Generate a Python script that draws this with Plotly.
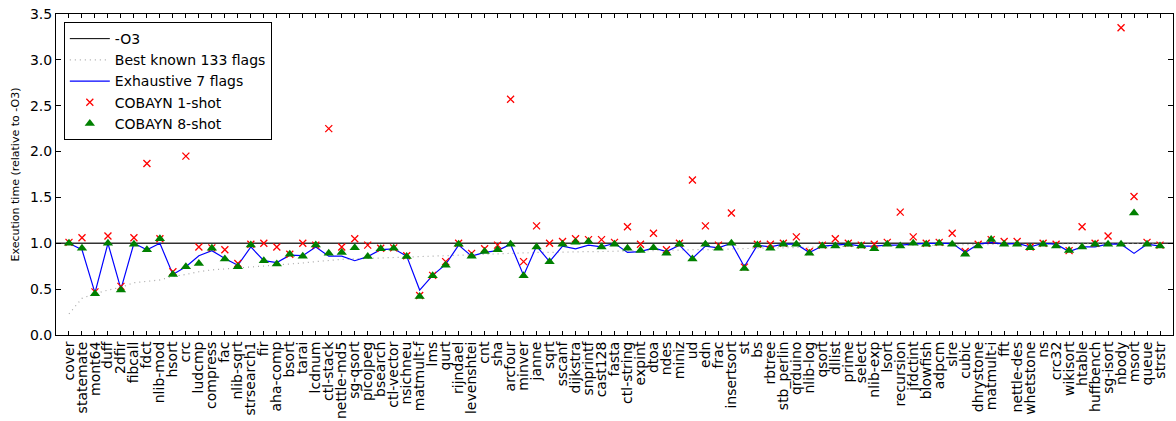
import plotly.graph_objects as go

benchmarks = ["cover", "statemate", "mont64", "duff", "2dfir", "fibcall", "fdct", "nlib-mod", "hsort", "crc",
              "ludcmp", "compress", "fac", "nlib-sqrt", "strsearch1", "fir", "aha-comp", "bsort", "tarai", "lcdnum",
              "ctl-stack", "nettle-md5", "sg-qsort", "picojpeg", "bsearch", "ctl-vector", "nsichneu", "matmult-f", "lms", "qurt",
              "rijndael", "levenshtei", "cnt", "sha", "arcfour", "minver", "janne", "sqrt", "sscanf", "dijkstra",
              "snprintf", "cast128", "fasta", "ctl-string", "expint", "dtoa", "ndes", "miniz", "ud", "edn",
              "frac", "insertsort", "st", "bs", "rbtree", "stb_perlin", "qrduino", "nlib-log", "qsort", "dllist",
              "prime", "select", "nlib-exp", "lsort", "recursion", "jfdctint", "blowfish", "adpcm", "slre", "cubic",
              "dhrystone", "matmult-i", "fft", "nettle-des", "whetstone", "ns", "crc32", "wikisort", "htable", "huffbench",
              "sg-isort", "nbody", "msort", "queue", "strstr"]

o3_baseline = 1.0

best_known = [0.23, 0.40, 0.45, 0.49, 0.52, 0.57, 0.585, 0.60, 0.64, 0.66,
              0.69, 0.71, 0.72, 0.73, 0.745, 0.755, 0.765, 0.775, 0.785, 0.80,
              0.815, 0.825, 0.83, 0.835, 0.84, 0.85, 0.855, 0.86, 0.865, 0.87,
              0.87, 0.875, 0.88, 0.885, 0.89, 0.895, 0.90, 0.90, 0.905, 0.905,
              0.91, 0.91, 0.915, 0.915, 0.92, 0.92, 0.925, 0.925, 0.93, 0.93,
              0.935, 0.94, 0.94, 0.945, 0.95, 0.95, 0.955, 0.96, 0.96, 0.965,
              0.965, 0.97, 0.97, 0.975, 0.975, 0.975, 0.98, 0.98, 0.98, 0.985,
              0.985, 0.985, 0.99, 0.99, 0.99, 0.99, 0.99, 0.995, 0.995, 0.995,
              0.995, 1.0, 1.0, 1.0, 1.0]

exhaustive_7 = [1.0, 0.93, 0.46, 1.0, 0.50, 1.0, 0.93, 1.0, 0.66, 0.745,
                0.865, 0.92, 0.835, 0.76, 0.96, 0.81, 0.79, 0.87, 0.865, 0.96,
                0.86, 0.86, 0.81, 0.855, 0.93, 0.94, 0.86, 0.49, 0.65, 0.77,
                0.98, 0.86, 0.90, 0.92, 0.99, 0.65, 0.97, 0.80, 0.97, 0.94,
                0.98, 0.96, 1.0, 0.90, 0.91, 0.95, 0.91, 0.98, 0.835, 0.97,
                0.95, 1.0, 0.745, 0.98, 0.96, 0.99, 0.99, 0.90, 0.97, 0.98,
                0.99, 0.97, 0.97, 0.98, 0.98, 0.99, 1.0, 1.0, 1.0, 0.90,
                0.99, 1.01, 0.99, 1.0, 0.96, 1.0, 0.99, 0.91, 0.96, 0.96,
                0.99, 0.99, 0.89, 0.99, 0.97]

cobayn_1shot = [1.01, 1.06, 0.47, 1.08, 0.53, 1.06, 1.87, 1.05, 0.69, 1.95,
                0.96, 0.95, 0.93, 0.78, 0.99, 1.0, 0.96, 0.88, 1.0, 0.98,
                2.25, 0.96, 1.05, 0.98, 0.945, 0.95, 0.865, 0.43, 0.65, 0.80,
                1.0, 0.89, 0.94, 0.98, 2.57, 0.80, 1.19, 1.0, 1.02, 1.05,
                1.04, 1.04, 1.01, 1.18, 0.99, 1.11, 0.93, 1.0, 1.69, 1.19,
                0.98, 1.33, 0.74, 0.99, 0.99, 1.0, 1.07, 0.91, 0.98, 1.05,
                1.0, 0.98, 0.99, 1.01, 1.34, 1.07, 1.0, 1.01, 1.11, 0.91,
                0.99, 1.04, 1.02, 1.02, 0.96, 1.0, 0.99, 0.92, 1.18, 1.0,
                1.08, 3.35, 1.51, 1.01, 0.98]

cobayn_8shot = [1.0, 0.945, 0.45, 1.0, 0.49, 0.99, 0.93, 1.05, 0.66, 0.745,
                0.78, 0.945, 0.83, 0.745, 0.98, 0.81, 0.775, 0.88, 0.86, 0.98,
                0.89, 0.90, 0.95, 0.855, 0.94, 0.945, 0.855, 0.42, 0.645, 0.76,
                0.99, 0.86, 0.91, 0.93, 0.99, 0.645, 0.96, 0.80, 0.99, 1.01,
                1.02, 0.96, 0.99, 0.945, 0.92, 0.95, 0.89, 0.99, 0.83, 0.99,
                0.945, 1.0, 0.725, 0.98, 0.945, 0.99, 0.99, 0.89, 0.97, 0.97,
                0.99, 0.97, 0.94, 0.99, 0.97, 1.0, 0.99, 1.0, 0.99, 0.88,
                0.97, 1.04, 0.99, 0.99, 0.95, 0.99, 0.97, 0.92, 0.96, 0.99,
                0.99, 0.99, 1.33, 0.99, 0.97]

y_ticks = [0.0, 0.5, 1.0, 1.5, 2.0, 2.5, 3.0, 3.5]

FONT = "DejaVu Sans"

fig = go.Figure()

fig.add_hline(y=o3_baseline, line=dict(color="#333333", width=1.5), layer="below")

fig.add_trace(go.Scatter(x=[None], y=[None], mode="lines", name="-O3",
                         line=dict(color="black", width=1)))
fig.add_trace(go.Scatter(x=benchmarks, y=best_known, mode="lines", name="Best known 133 flags",
                         line=dict(color="#a8a8a8", width=1.2, dash="1px,4px")))
fig.add_trace(go.Scatter(x=benchmarks, y=exhaustive_7, mode="lines", name="Exhaustive 7 flags",
                         line=dict(color="#0000ff", width=1.2)))
fig.add_trace(go.Scatter(x=benchmarks, y=cobayn_1shot, mode="markers", name="COBAYN 1-shot",
                         marker=dict(symbol="x-thin-open", size=7, color="#ff0000",
                                     line=dict(color="#ff0000", width=1.3))))
fig.add_trace(go.Scatter(x=benchmarks, y=cobayn_8shot, mode="markers", name="COBAYN 8-shot",
                         marker=dict(symbol="triangle-up", size=9, color="#008000",
                                     line=dict(width=0))))

fig.update_layout(
    width=1176, height=421,
    margin=dict(l=56, r=2, t=14, b=84),
    plot_bgcolor="white", paper_bgcolor="white",
    font=dict(family=FONT, size=14, color="black"),
    showlegend=True,
    legend=dict(x=0.007, y=0.975, xanchor="left", yanchor="top",
                bgcolor="white", bordercolor="black", borderwidth=1,
                font=dict(family=FONT, size=14), tracegroupgap=0, itemwidth=40),
    xaxis=dict(type="category", range=[-1, 85], tickangle=-90,
               tickmode="array", tickvals=benchmarks, ticktext=benchmarks,
               showline=True, linecolor="black", linewidth=1, mirror="ticks",
               ticks="inside", ticklen=4, tickcolor="black", showgrid=False,
               tickfont=dict(family=FONT, size=14), zeroline=False),
    yaxis=dict(range=[0, 3.5], tickvals=y_ticks, ticktext=[f"{v:.1f}" for v in y_ticks],
               showline=True, linecolor="black", linewidth=1, mirror="ticks",
               ticks="inside", ticklen=5, tickcolor="black", showgrid=False,
               zeroline=False, tickfont=dict(family=FONT, size=14),
               title=dict(text="Execution time (relative to -O3)", font=dict(family=FONT, size=11),
                          standoff=8)),
)

fig.write_html("out.html")
